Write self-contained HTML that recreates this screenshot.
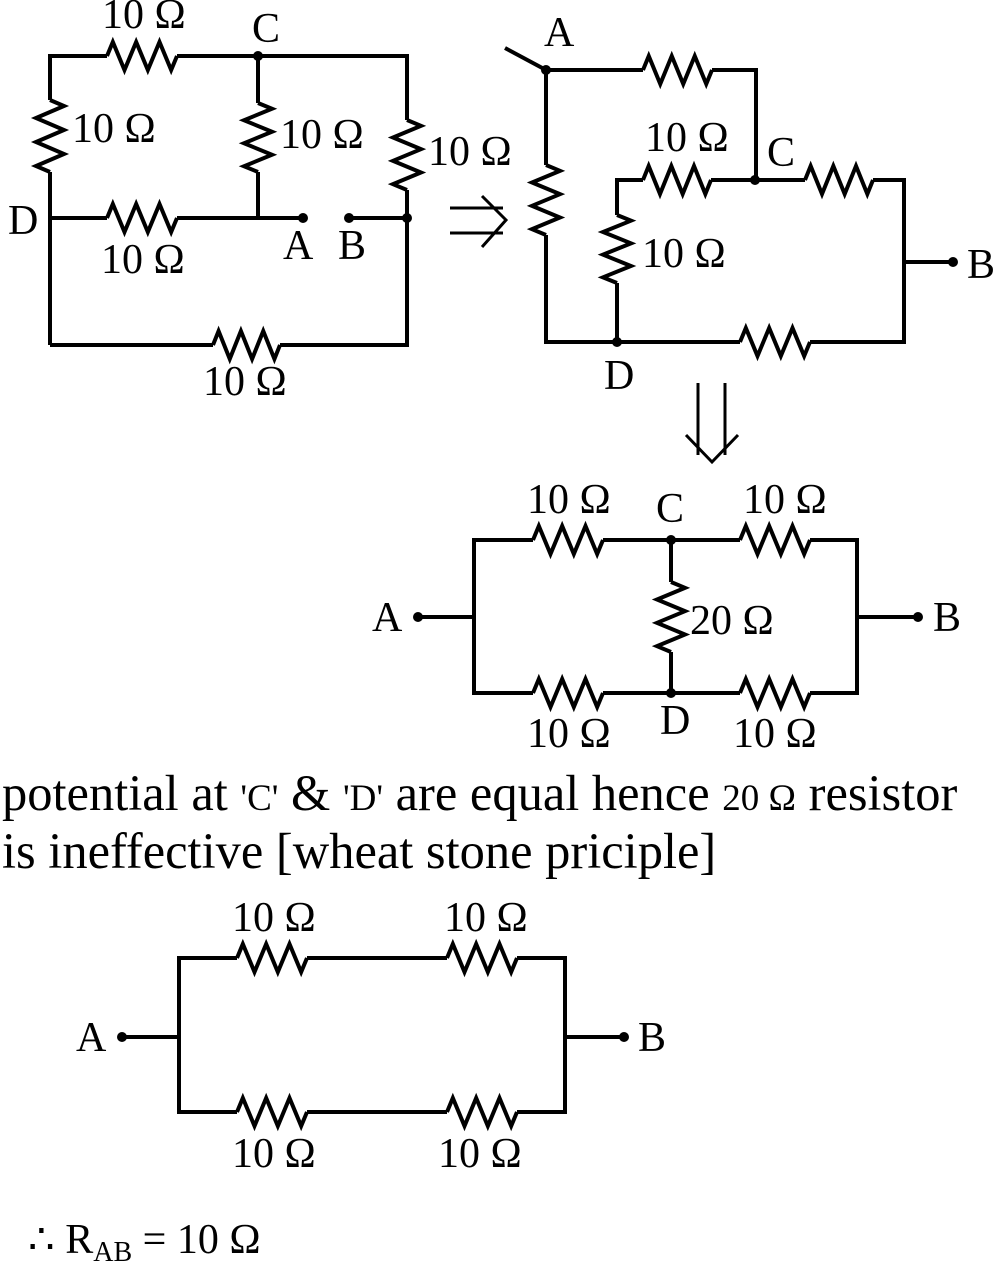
<!DOCTYPE html>
<html><head><meta charset="utf-8"><style>
body{margin:0;background:#fff}
svg{display:block}
text{font-family:"Liberation Serif",serif;fill:#000}
</style></head><body>
<svg id="s" width="995" height="1264" viewBox="0 0 995 1264" xmlns="http://www.w3.org/2000/svg">
<g id="w" fill="none" stroke="#000" stroke-width="4" stroke-linejoin="miter">
<!-- circuit 1 -->
<polyline points="107,56 50,56 50,100"/>
<polyline points="177,56 407,56 407,120"/>
<line x1="50" y1="172" x2="50" y2="345"/>
<line x1="258" y1="56" x2="258" y2="103"/>
<line x1="258" y1="172" x2="258" y2="218"/>
<line x1="50" y1="218" x2="107" y2="218"/>
<line x1="177" y1="218" x2="303" y2="218"/>
<line x1="349" y1="218" x2="407" y2="218"/>
<polyline points="407,190 407,345 280,345"/>
<line x1="50" y1="345" x2="213" y2="345"/>
<!-- arrows -->
<g stroke-width="3">
<line x1="450" y1="208" x2="503" y2="208"/><line x1="450" y1="233" x2="503" y2="233"/>
<polyline points="482,196 506,220 482,247"/>
<line x1="698" y1="383" x2="698" y2="455"/><line x1="725" y1="383" x2="725" y2="455"/>
<polyline points="686,435 712,462 738,435"/>
</g>
<!-- circuit 2 -->
<line x1="505" y1="48" x2="546" y2="70"/>
<line x1="546" y1="70" x2="643" y2="70"/>
<polyline points="712,70 756,70 756,180"/>
<line x1="546" y1="70" x2="546" y2="165"/>
<polyline points="546,235 546,342 740,342"/>
<polyline points="810,342 904,342 904,180 873,180"/>
<line x1="711" y1="180" x2="805" y2="180"/>
<polyline points="643,180 617,180 617,215"/>
<line x1="617" y1="283" x2="617" y2="342"/>
<line x1="904" y1="262" x2="953" y2="262"/>
<!-- circuit 3 -->
<polyline points="533,540 474,540 474,693 533,693"/>
<line x1="603" y1="540" x2="740" y2="540"/>
<line x1="603" y1="693" x2="740" y2="693"/>
<polyline points="810,540 857,540 857,693 810,693"/>
<line x1="671" y1="540" x2="671" y2="582"/>
<line x1="671" y1="652" x2="671" y2="693"/>
<line x1="418" y1="617" x2="474" y2="617"/>
<line x1="857" y1="617" x2="918" y2="617"/>
<!-- circuit 4 -->
<polyline points="237,958 179,958 179,1112 237,1112"/>
<line x1="307" y1="958" x2="447" y2="958"/>
<line x1="307" y1="1112" x2="447" y2="1112"/>
<polyline points="517,958 565,958 565,1112 517,1112"/>
<line x1="122" y1="1037" x2="179" y2="1037"/>
<line x1="565" y1="1037" x2="624" y2="1037"/>
</g>
<g fill="#000">
<circle cx="258" cy="56" r="5"/><circle cx="303" cy="218" r="5"/><circle cx="349" cy="218" r="5"/><circle cx="407" cy="218" r="5"/>
<circle cx="546" cy="70" r="5"/><circle cx="755" cy="180" r="5"/><circle cx="617" cy="342" r="5"/><circle cx="953" cy="262" r="5"/>
<circle cx="671" cy="540" r="5"/><circle cx="671" cy="693" r="5"/><circle cx="418" cy="617" r="5"/><circle cx="918" cy="617" r="5"/>
<circle cx="122" cy="1037" r="5"/><circle cx="624" cy="1037" r="5"/>
</g>
<g font-size="42">
<text x="102" y="28">10 Ω</text><text x="252" y="42">C</text>
<text x="72" y="142">10 Ω</text><text x="280" y="148">10 Ω</text><text x="428" y="165">10 Ω</text>
<text x="8" y="234">D</text><text x="101" y="273">10 Ω</text><text x="283" y="259">A</text><text x="338" y="259">B</text>
<text x="203" y="395">10 Ω</text>
<text x="544" y="46">A</text><text x="645" y="151">10 Ω</text><text x="767" y="166">C</text>
<text x="642" y="267">10 Ω</text><text x="967" y="278">B</text><text x="604" y="389">D</text>
<text x="527" y="513">10 Ω</text><text x="656" y="522">C</text><text x="743" y="513">10 Ω</text>
<text x="372" y="631">A</text><text x="690" y="634">20 Ω</text><text x="933" y="631">B</text>
<text x="527" y="747">10 Ω</text><text x="660" y="734">D</text><text x="733" y="747">10 Ω</text>
<text x="232" y="931">10 Ω</text><text x="444" y="931">10 Ω</text>
<text x="76" y="1051">A</text><text x="638" y="1051">B</text>
<text x="232" y="1167">10 Ω</text><text x="438" y="1167">10 Ω</text>
</g>
<text x="2" y="810" font-size="50.5">potential at <tspan font-size="37">'C'</tspan> &amp; <tspan font-size="37">'D'</tspan> are equal hence <tspan font-size="37">20 Ω</tspan> resistor</text>
<text x="2" y="868" font-size="50.5">is ineffective [wheat stone priciple]</text>
<text x="28" y="1253" font-size="42">∴ R<tspan font-size="28" dy="8">AB</tspan><tspan dy="-8"> = 10 Ω</tspan></text>
</svg>
<script>
var g=document.getElementById('w'),NS="http://www.w3.org/2000/svg";
function zig(x1,y1,x2,y2,h){var dx=x2-x1,dy=y2-y1,L=Math.hypot(dx,dy),ux=dx/L,uy=dy/L,nx=-uy,ny=ux,p=[[x1,y1]];
var f=[1,3,5,7,9,11],s=[-1,1,-1,1,-1,1];for(var i=0;i<6;i++){var t=f[i]/12*L;p.push([x1+ux*t+nx*h*s[i],y1+uy*t+ny*h*s[i]]);}p.push([x2,y2]);
var e=document.createElementNS(NS,'polyline');e.setAttribute('points',p.map(function(a){return a.join(',')}).join(' '));g.appendChild(e);}
[[107,56,177,56],[50,100,50,172],[258,103,258,172],[407,120,407,190],[107,218,177,218],[213,345,280,345],
[643,70,712,70],[546,165,546,235],[643,180,711,180],[805,180,873,180],[617,215,617,283],[740,342,810,342],
[533,540,603,540],[740,540,810,540],[533,693,603,693],[740,693,810,693],[671,582,671,652],
[237,958,307,958],[447,958,517,958],[237,1112,307,1112],[447,1112,517,1112]].forEach(function(a){zig(a[0],a[1],a[2],a[3],14)});
</script>
</body></html>
